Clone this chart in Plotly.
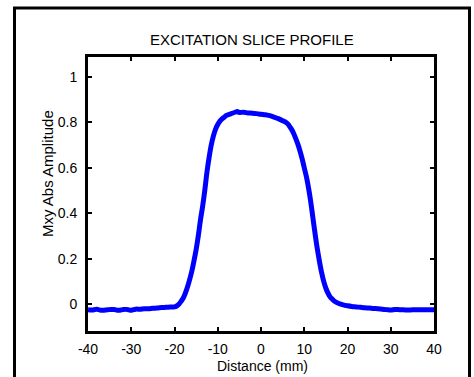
import plotly.graph_objects as go

distance_mm = [-40, -39, -38, -37, -36, -35, -34, -33, -32, -31, -30, -29, -28, -27, -26, -25,
               -24, -23, -22, -21, -20, -19.5, -19, -18.5, -18, -17.5, -17, -16.5, -16, -15.5,
               -15, -14.5, -14, -13.5, -13, -12.5, -12, -11.5, -11, -10.5, -10, -9.5, -9, -8.5,
               -8, -7, -6, -5.5, -5, -4, -3, -2, -1, 0, 1, 2, 3, 4, 5, 6, 6.5, 7, 7.5, 8, 8.5,
               9, 9.5, 10, 10.5, 11, 11.5, 12, 12.5, 13, 13.5, 14, 14.5, 15, 15.5, 16, 16.5,
               17, 18, 19, 20, 21, 22, 23, 24, 25, 26, 27, 28, 29, 30, 31, 32, 33, 34, 35, 36,
               37, 38, 39, 40]
mxy_abs = [-0.025, -0.026, -0.022, -0.027, -0.026, -0.024, -0.023, -0.027, -0.024, -0.023,
           -0.027, -0.022, -0.022, -0.020, -0.020, -0.018, -0.017, -0.015, -0.014, -0.013,
           -0.012, -0.008, 0.000, 0.012, 0.026, 0.048, 0.075, 0.108, 0.145, 0.190,
           0.24, 0.30, 0.37, 0.43, 0.50, 0.58, 0.645, 0.70, 0.74, 0.77, 0.79, 0.805, 0.815, 0.822,
           0.830, 0.837, 0.844, 0.847, 0.843, 0.844, 0.841, 0.840, 0.838, 0.835, 0.833, 0.829,
           0.823, 0.816, 0.807, 0.796, 0.785, 0.771, 0.753, 0.730, 0.705,
           0.675, 0.640, 0.600, 0.56, 0.51, 0.45, 0.38, 0.31, 0.245, 0.19, 0.14, 0.10, 0.07,
           0.048, 0.032, 0.022, 0.013, 0.003, -0.003, -0.007, -0.010, -0.012, -0.014, -0.016,
           -0.017, -0.019, -0.020, -0.022, -0.024, -0.026, -0.023, -0.024, -0.025, -0.026,
           -0.025, -0.025, -0.025, -0.025, -0.025, -0.025]

x_ticks = [-40, -30, -20, -10, 0, 10, 20, 30, 40]
x_tick_text = ["-40", "-30", "-20", "-10", "0", "10", "20", "30", "40"]
y_ticks = [0, 0.2, 0.4, 0.6, 0.8, 1]
y_tick_text = ["0", "0.2", "0.4", "0.6", "0.8", "1"]

W, H = 474, 377
L, R, T, B = 88, 40, 57, 46
pw, ph = W - L - R, H - T - B

def px(x):
    return (x - L) / pw

def py(y):
    return (H - B - y) / ph

font = "Liberation Sans, Arial, sans-serif"

fig = go.Figure()
fig.add_trace(go.Scatter(x=distance_mm, y=mxy_abs, mode="lines", line_shape="spline",
                         line=dict(color="#0000FF", width=5), showlegend=False))

fig.update_layout(
    width=W, height=H,
    margin=dict(l=L, r=R, t=T, b=B),
    paper_bgcolor="white", plot_bgcolor="white",
    font=dict(family=font, size=14, color="black"),
    xaxis=dict(range=[-40, 40], tickvals=x_ticks, ticktext=x_tick_text,
               ticks="inside", ticklen=4, tickwidth=2,
               tickcolor="black", showline=True, linecolor="black", linewidth=3,
               mirror="ticks", showgrid=False, zeroline=False,
               ticklabelstandoff=3, tickfont=dict(size=14)),
    yaxis=dict(range=[-0.118, 1.087], tickvals=y_ticks, ticktext=y_tick_text,
               ticks="inside", ticklen=4, tickwidth=2,
               tickcolor="black", showline=True, linecolor="black", linewidth=3,
               mirror="ticks", showgrid=False, zeroline=False,
               ticklabelstandoff=5, tickfont=dict(size=14)),
    shapes=[dict(type="rect", xref="paper", yref="paper",
                 x0=px(14.5), x1=px(469.5), y0=py(390), y1=py(8),
                 line=dict(color="black", width=3))],
    annotations=[
        dict(text="EXCITATION SLICE PROFILE", xref="paper", yref="paper",
             x=px(252), y=py(40), xanchor="center", yanchor="middle",
             showarrow=False, font=dict(size=15)),
        dict(text="Distance (mm)", xref="paper", yref="paper",
             x=px(262), y=py(366), xanchor="center", yanchor="middle",
             showarrow=False, font=dict(size=14)),
        dict(text="Mxy Abs Amplitude", xref="paper", yref="paper",
             x=px(47), y=py(174), xanchor="center", yanchor="middle",
             showarrow=False, textangle=-90, font=dict(size=15)),
    ],
)

fig.write_html("out.html")
